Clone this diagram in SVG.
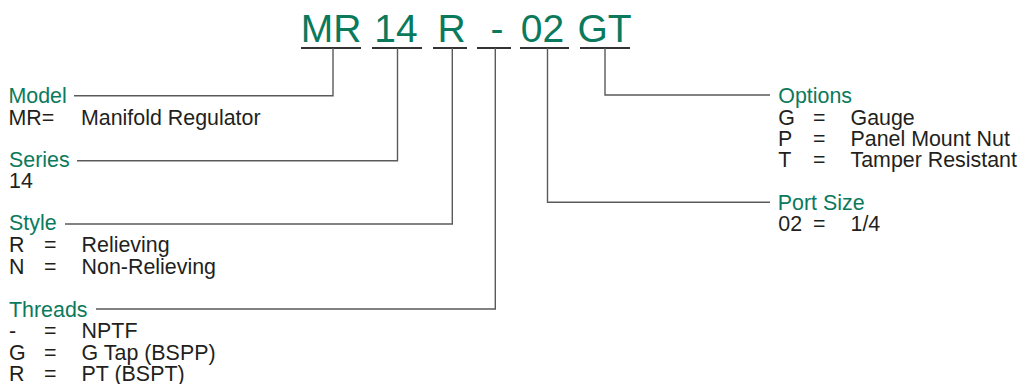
<svg xmlns="http://www.w3.org/2000/svg" width="1021" height="384" viewBox="0 0 1021 384">
<style>
text{font-family:"Liberation Sans",Arial,sans-serif;}
.code{font-size:39px;fill:#0b7a5c;text-anchor:middle;}
.title{font-size:21.4px;fill:#0b7a5c;}
.body{font-size:21.4px;fill:#231f20;}
.ul{stroke:#333;stroke-width:2.2;fill:none;}
.conn{stroke:#5a5a5a;stroke-width:1.4;fill:none;}
</style>
<rect width="1021" height="384" fill="#fff"/>
<g id="code">
<text class="code" x="331" y="42">MR</text>
<text class="code" x="396" y="42">14</text>
<text class="code" x="451.5" y="42">R</text>
<text class="code" x="497" y="42">-</text>
<text class="code" x="542.5" y="42">02</text>
<text class="code" x="604.5" y="42">GT</text>
<path class="ul" d="M301 48H361M372 48H422M433 48H467M477 48H511M520 48H569M580 48H630"/>
</g>
<g id="connectors">
<path class="conn" d="M333 48V95.7H74"/>
<path class="conn" d="M397.5 48V160.7H77"/>
<path class="conn" d="M452.3 48V224H65"/>
<path class="conn" d="M495.3 48V309H96"/>
<path class="conn" d="M547.5 48V202.3H770"/>
<path class="conn" d="M605 48V95H770"/>
</g>
<g id="model">
<text class="title" x="8.5" y="102.7">Model</text>
<text class="body" y="125"><tspan x="8.5">MR=</tspan><tspan x="81">Manifold Regulator</tspan></text>
</g>
<g id="series">
<text class="title" x="9" y="167.3">Series</text>
<text class="body" x="9" y="188.3">14</text>
</g>
<g id="style">
<text class="title" x="9" y="230">Style</text>
<text class="body" y="251.7"><tspan x="9">R</tspan><tspan x="44">=</tspan><tspan x="81.6">Relieving</tspan></text>
<text class="body" y="273.5"><tspan x="9">N</tspan><tspan x="44">=</tspan><tspan x="81.6">Non-Relieving</tspan></text>
</g>
<g id="threads">
<text class="title" x="9" y="316.7">Threads</text>
<text class="body" y="338.3"><tspan x="9">-</tspan><tspan x="44">=</tspan><tspan x="81.6">NPTF</tspan></text>
<text class="body" y="359.5"><tspan x="9">G</tspan><tspan x="44">=</tspan><tspan x="81.6">G Tap (BSPP)</tspan></text>
<text class="body" y="380.7"><tspan x="9">R</tspan><tspan x="44">=</tspan><tspan x="81.6">PT (BSPT)</tspan></text>
</g>
<g id="options">
<text class="title" x="778.3" y="103.3">Options</text>
<text class="body" y="125"><tspan x="778.3">G</tspan><tspan x="813">=</tspan><tspan x="850.5">Gauge</tspan></text>
<text class="body" y="146"><tspan x="778">P</tspan><tspan x="813">=</tspan><tspan x="850.5">Panel Mount Nut</tspan></text>
<text class="body" y="167.3"><tspan x="778.3">T</tspan><tspan x="813">=</tspan><tspan x="850.5">Tamper Resistant</tspan></text>
</g>
<g id="portsize">
<text class="title" x="777.8" y="210">Port Size</text>
<text class="body" y="231"><tspan x="778.3">02</tspan><tspan x="813">=</tspan><tspan x="850.5">1/4</tspan></text>
</g>
</svg>
